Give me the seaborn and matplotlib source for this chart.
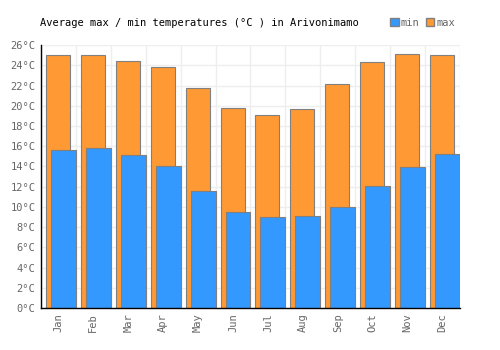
import matplotlib
matplotlib.use("Agg")
import matplotlib.pyplot as plt
import seaborn as sns
import pandas as pd
from matplotlib.patches import Patch

months = ["Jan", "Feb", "Mar", "Apr", "May", "Jun", "Jul", "Aug", "Sep", "Oct", "Nov", "Dec"]
max_temps = [25.0, 25.0, 24.4, 23.8, 21.8, 19.8, 19.1, 19.7, 22.2, 24.3, 25.1, 25.0]
min_temps = [15.6, 15.8, 15.1, 14.0, 11.6, 9.5, 9.0, 9.1, 10.0, 12.1, 13.9, 15.2]
yticks = list(range(0, 27, 2))
title = "Average max / min temperatures (°C ) in Arivonimamo"

sns.set_theme(style="white")
plt.rcParams['font.family'] = ['DejaVu Sans Mono']

df = pd.DataFrame({"month": months, "max": max_temps, "min": min_temps})

fig = plt.figure(figsize=(5, 3.5), dpi=100)
ax = fig.add_axes([0.082, 0.12, 0.838, 0.751])

orange = "#FF9933"
blue = "#3399FF"
edge = "#808080"

sns.barplot(data=df, x="month", y="max", color=orange, saturation=1, width=24/35,
            edgecolor=edge, linewidth=0.8, ax=ax, zorder=2)
n_max = len(ax.patches)
for p in ax.patches:
    p.set_x(p.get_x() - 0.5/35)
sns.barplot(data=df, x="month", y="min", color=blue, saturation=1, width=25/35,
            edgecolor=edge, linewidth=0.8, ax=ax, zorder=3)
for p in ax.patches[n_max:]:
    p.set_x(p.get_x() + 5/35)

ax.set_xlim(-0.5, 11.5)
ax.set_ylim(0, 26)
ax.set_yticks(yticks)
ax.set_yticklabels([f"{v}°C" for v in yticks])
ax.set_xlabel("")
ax.set_ylabel("")

# grid
for k in range(13):
    ax.axvline(k - 0.5, color="#eeeeee", lw=1, zorder=0)
for v in yticks:
    ax.axhline(v, color="#eeeeee", lw=1, zorder=0)

for s in ["top", "right"]:
    ax.spines[s].set_visible(False)
for s in ["left", "bottom"]:
    ax.spines[s].set_color("black")
    ax.spines[s].set_linewidth(1.0)
    ax.spines[s].set_zorder(5)

ax.tick_params(axis="both", colors="#666666", labelsize=7.5, length=0, pad=4)
ax.tick_params(axis="x", rotation=90)
for lbl in ax.get_xticklabels() + ax.get_yticklabels():
    lbl.set_color("#666666")

fig.text(0.08, 0.935, title, fontsize=7.5, color="black", ha="left", va="center")

handles = [Patch(facecolor=blue, edgecolor=edge, label="min"),
           Patch(facecolor=orange, edgecolor=edge, label="max")]
leg = fig.legend(handles=handles, loc="center", bbox_to_anchor=(0.845, 0.935), ncol=2,
                 frameon=False, fontsize=7.5, handlelength=0.8, handleheight=0.8,
                 handletextpad=0.2, columnspacing=0.6, borderaxespad=0)
for t in leg.get_texts():
    t.set_color("#666666")

fig.savefig("out.png", dpi=100)
